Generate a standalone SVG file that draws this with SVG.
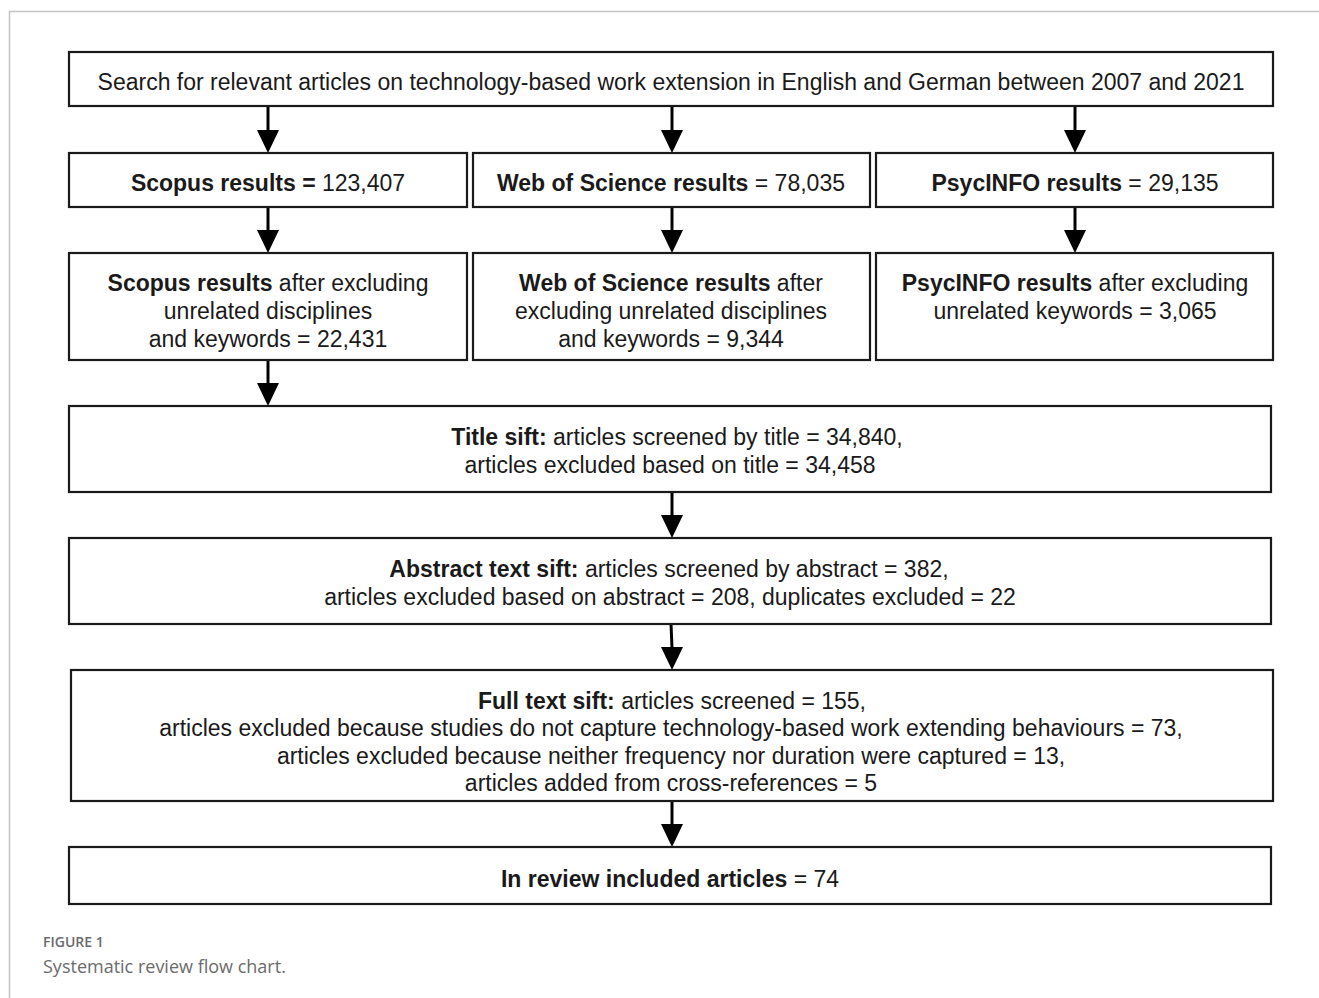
<svg xmlns="http://www.w3.org/2000/svg" width="1319" height="998" viewBox="0 0 1319 998">
<style>
.box{fill:#fff;stroke:#1a1a1a;stroke-width:2.2}
.t{font-family:"Liberation Sans",Arial,sans-serif;font-size:23px;fill:#1a1a1a;text-anchor:middle}
.b{font-weight:bold}
.conn line{stroke:#000;stroke-width:3}
.cap1{font-family:"Open Sans","Noto Sans",sans-serif;font-size:14px;font-weight:600;fill:#6b6b6b}
.cap2{font-family:"Open Sans","Noto Sans",sans-serif;font-size:18px;fill:#6b6b6b}
</style>
<rect width="1319" height="998" fill="#fff"/>
<path d="M9.5,998 V11.5 H1319" fill="none" stroke="#c4c4c4" stroke-width="1.5"/>

<g id="connectors" class="conn">
<line x1="268" y1="106" x2="268" y2="131"/><path d="M257,130 L279,130 L268,153 Z"/>
<line x1="672" y1="106" x2="672" y2="131"/><path d="M661,130 L683,130 L672,153 Z"/>
<line x1="1075" y1="106" x2="1075" y2="131"/><path d="M1064,130 L1086,130 L1075,153 Z"/>
<line x1="268" y1="207" x2="268" y2="231"/><path d="M257,230 L279,230 L268,253 Z"/>
<line x1="672" y1="207" x2="672" y2="231"/><path d="M661,230 L683,230 L672,253 Z"/>
<line x1="1075" y1="207" x2="1075" y2="231"/><path d="M1064,230 L1086,230 L1075,253 Z"/>
<line x1="268" y1="360" x2="268" y2="384"/><path d="M257,383 L279,383 L268,406 Z"/>
<line x1="672" y1="492" x2="672" y2="516"/><path d="M661,515 L683,515 L672,538 Z"/>
<line x1="671" y1="624" x2="672" y2="648"/><path d="M661,647 L683,647 L672,670 Z"/>
<line x1="672" y1="801" x2="672" y2="825"/><path d="M661,824 L683,824 L672,847 Z"/>
</g>

<g id="search">
<rect class="box" x="69" y="52" width="1204" height="54"/>
<text class="t" x="671" y="90">Search for relevant articles on technology-based work extension in English and German between 2007 and 2021</text>
</g>

<g id="scopus">
<rect class="box" x="69" y="153" width="398" height="54"/>
<text class="t" x="268" y="191"><tspan class="b">Scopus results = </tspan>123,407</text>
</g>
<g id="wos">
<rect class="box" x="473" y="153" width="397" height="54"/>
<text class="t" x="671" y="191"><tspan class="b">Web of Science results</tspan> = 78,035</text>
</g>
<g id="psycinfo">
<rect class="box" x="876" y="153" width="397" height="54"/>
<text class="t" x="1075" y="191"><tspan class="b">PsycINFO results</tspan> = 29,135</text>
</g>

<g id="scopus2">
<rect class="box" x="69" y="253" width="398" height="107"/>
<text class="t" x="268" y="291"><tspan class="b">Scopus results</tspan> after excluding</text>
<text class="t" x="268" y="319">unrelated disciplines</text>
<text class="t" x="268" y="347">and keywords = 22,431</text>
</g>
<g id="wos2">
<rect class="box" x="473" y="253" width="397" height="107"/>
<text class="t" x="671" y="291"><tspan class="b">Web of Science results</tspan> after</text>
<text class="t" x="671" y="319">excluding unrelated disciplines</text>
<text class="t" x="671" y="347">and keywords = 9,344</text>
</g>
<g id="psycinfo2">
<rect class="box" x="876" y="253" width="397" height="107"/>
<text class="t" x="1075" y="291"><tspan class="b">PsycINFO results</tspan> after excluding</text>
<text class="t" x="1075" y="319">unrelated keywords = 3,065</text>
</g>

<g id="title-sift">
<rect class="box" x="69" y="406" width="1202" height="86"/>
<text class="t" x="677" y="445"><tspan class="b">Title sift:</tspan> articles screened by title = 34,840,</text>
<text class="t" x="670" y="473">articles excluded based on title = 34,458</text>
</g>

<g id="abstract-sift">
<rect class="box" x="69" y="538" width="1202" height="86"/>
<text class="t" x="669" y="577"><tspan class="b">Abstract text sift:</tspan> articles screened by abstract = 382,</text>
<text class="t" x="670" y="605">articles excluded based on abstract = 208, duplicates excluded = 22</text>
</g>

<g id="fulltext-sift">
<rect class="box" x="71" y="670" width="1202" height="131"/>
<text class="t" x="672" y="709"><tspan class="b">Full text sift:</tspan> articles screened = 155,</text>
<text class="t" x="671" y="736">articles excluded because studies do not capture technology-based work extending behaviours = 73,</text>
<text class="t" x="671" y="764">articles excluded because neither frequency nor duration were captured = 13,</text>
<text class="t" x="671" y="791">articles added from cross-references = 5</text>
</g>

<g id="included">
<rect class="box" x="69" y="847" width="1202" height="57"/>
<text class="t" x="670" y="887"><tspan class="b">In review included articles</tspan> = 74</text>
</g>

<text class="cap1" x="43" y="947">FIGURE 1</text>
<text class="cap2" x="43" y="973">Systematic review flow chart.</text>
</svg>
